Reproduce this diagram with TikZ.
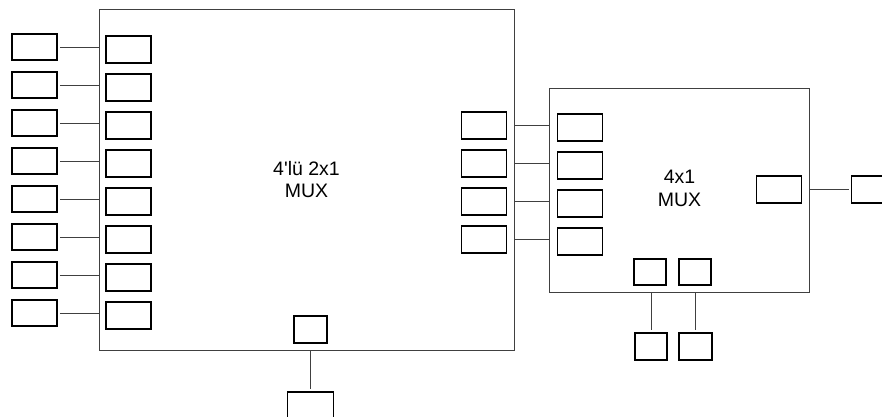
\documentclass[tikz,border=0pt]{standalone}
\usepackage{fontspec}
\setmainfont{Liberation Sans}[Ligatures=TeXOff]
\begin{document}
\begin{tikzpicture}[x=1pt,y=-1pt,
  pin/.style={draw=black,line width=1.8pt,fill=white,rectangle,inner sep=0pt,minimum width=45pt,minimum height=26.5pt,outer sep=2.8pt},
  sq/.style={pin,minimum width=32.5pt},
  frame/.style={draw=black!75,line width=1pt,rectangle,inner sep=0pt},
  wire/.style={draw=black!75,line width=1pt},
  lbl/.style={align=center,font=\fontsize{19.5}{22.5}\selectfont}]
\useasboundingbox (0,0) rectangle (882,416);
\clip (0,0) rectangle (882,416);
% frames
\node[frame,minimum width=415pt,minimum height=341pt] (big) at (306.5,179.5) {};
\node[frame,minimum width=260pt,minimum height=204pt] (mux) at (679,190) {};
\node[lbl] (t1) at (306.5,179.5) {4'lü 2x1\\MUX};
\node[lbl] (t2) at (679.5,188.5) {4x1\\MUX};
% left inputs
\foreach \i in {0,...,7}{
  \node[pin] (o\i) at (34.5,47+38*\i) {};
  \node[pin] (n\i) at (128.5,49.5+38*\i) {};
  \draw[wire] (o\i.east) -- (o\i.east -| big.west);
}
% middle outputs / right inputs
\foreach \i in {0,...,3}{
  \node[pin] (m\i) at (484,125.5+38*\i) {};
  \node[pin] (r\i) at (580,127.5+38*\i) {};
  \draw[wire] (m\i.east -| big.east) -- (m\i.east -| mux.west);
}
% select of big mux
\node[sq] (s0) at (310.5,329.5) {};
\node[pin,minimum width=46pt] (s0o) at (310.5,405.5) {};
\draw[wire] (s0o.north |- big.south) -- (s0o.north);
% selects of 4x1 mux
\node[sq] (s1) at (650,272) {};
\node[sq] (s2) at (695,272) {};
\node[sq] (s1o) at (651,346.5) {};
\node[sq] (s2o) at (695.5,346.5) {};
\draw[wire] (s1o.north |- mux.south) -- (s1o.north);
\draw[wire] (s2o.north |- mux.south) -- (s2o.north);
% output
\node[pin] (y) at (779,189.5) {};
\node[pin] (yo) at (874,189.5) {};
\draw[wire] (yo.west -| mux.east) -- (yo.west);
\end{tikzpicture}
\end{document}
